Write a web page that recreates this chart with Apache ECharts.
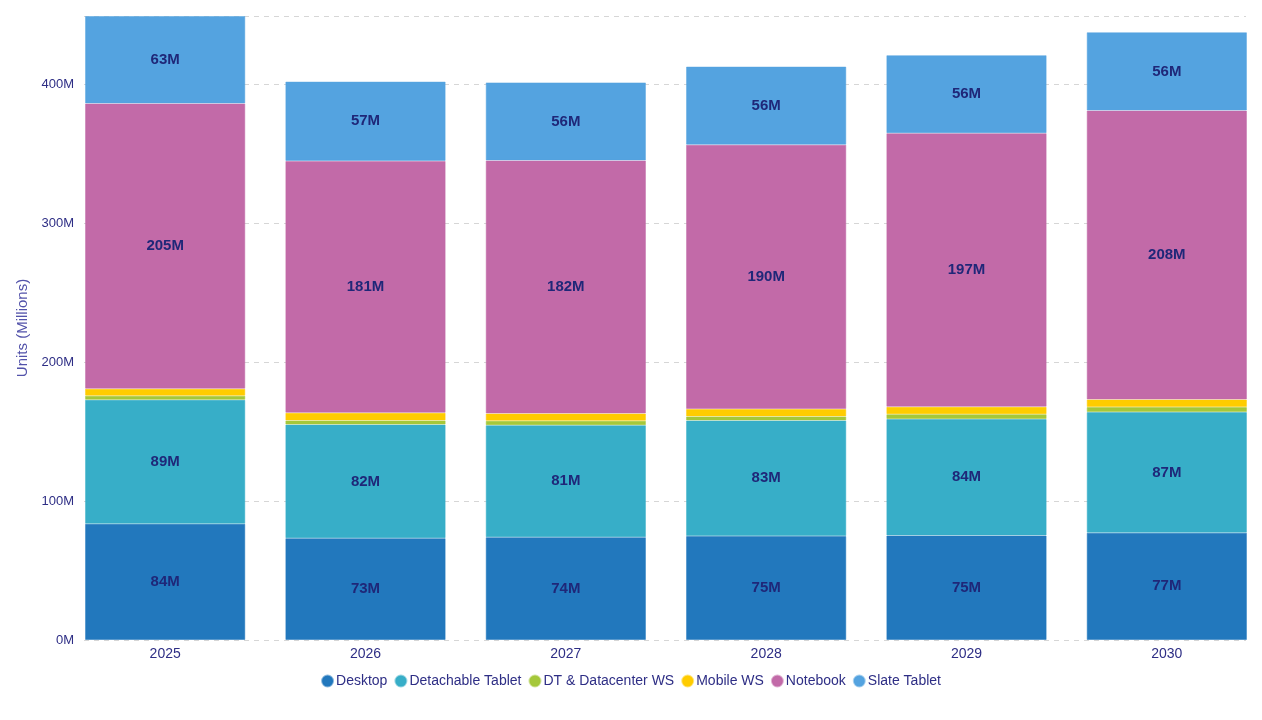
<!DOCTYPE html>
<html><head><meta charset="utf-8">
<script src="https://cdn.jsdelivr.net/npm/echarts@6/dist/echarts.min.js"></script>
<style>html,body{margin:0;padding:0;background:#fff}#c{width:1262px;height:720px}</style>
</head><body><div id="c"></div>
<script>
const years = ['2025','2026','2027','2028','2029','2030'];
const desktop = [83.6, 73.3, 74, 74.8, 75.2, 77.2];
const detachable = [89.2, 81.7, 80.6, 83.2, 83.8, 86.8];
const dtWS = [3, 3, 3.1, 2.9, 3.5, 3.6];
const mobileWS = [5, 5.5, 5.3, 5.3, 5.3, 5.5];
const notebook = [205.3, 181.2, 182.1, 190.2, 196.9, 207.9];
const slate = [62.9, 57.1, 56.1, 56.2, 56.1, 56.3];
const seriesNames = ['Desktop','Detachable Tablet','DT & Datacenter WS','Mobile WS','Notebook','Slate Tablet'];
const seriesData = [desktop, detachable, dtWS, mobileWS, notebook, slate];
const colors = ['#2278BD','#37AEC8','#A5C83A','#FFCC00','#C26AA8','#54A3E0'];
const borderColors = ['rgba(34,120,189,0.5)','rgba(55,174,200,0.5)','rgba(165,200,58,0.5)','rgba(255,204,0,0.5)','rgba(194,106,168,0.5)','rgba(84,163,224,0.5)'];
const showLabel = [true, true, false, false, true, true];

const totals = years.map((_, j) => seriesData.reduce((s, arr) => s + arr[j], 0));
const yMax = Math.max(...totals);

const textColor = '#2e2e85';
const chart = echarts.init(document.getElementById('c'));
chart.setOption({
  animation: false,
  color: colors,
  textStyle: { fontFamily: 'Liberation Sans, Arial, sans-serif' },
  grid: [
    { left: 84, right: 16, top: 16, bottom: 80 },
    { left: 65, width: 1202, top: 16, bottom: 80, outerBoundsMode: 'none', containLabel: false }
  ],
  legend: {
    bottom: 27, left: 'center', icon: 'circle', itemWidth: 11, itemHeight: 11, itemGap: 7,
    textStyle: { color: textColor, fontSize: 14, padding: [0,0,0,-2] },
    data: seriesNames
  },
  xAxis: [
    { type: 'category', gridIndex: 0, data: years, show: false },
    {
      type: 'category', gridIndex: 1, data: years,
      axisLine: { show: false }, axisTick: { show: false },
      axisLabel: { color: textColor, fontSize: 14, margin: 7 }
    }
  ],
  yAxis: [
    {
      type: 'value', gridIndex: 0, min: 0, max: yMax, interval: 100,
      name: 'Units (Millions)', nameLocation: 'middle', nameGap: 54,
      nameTextStyle: { color: '#5353aa', fontSize: 15 },
      axisLabel: { color: textColor, fontSize: 13, margin: 10, formatter: v => v + 'M', showMaxLabel: false },
      splitLine: { lineStyle: { color: '#d6d6d6', type: [5, 5] } },
      axisLine: { show: false }, axisTick: { show: false }
    },
    {
      type: 'value', gridIndex: 1, min: 0, max: yMax, show: false,
      splitLine: { show: false }
    }
  ],
  series: seriesNames.map((n, i) => ({
    name: n, type: 'bar', stack: 'total', barCategoryGap: '20%',
    xAxisIndex: 1, yAxisIndex: 1,
    data: seriesData[i],
    itemStyle: { color: colors[i], borderColor: borderColors[i], borderWidth: 1 },
    label: {
      show: showLabel[i], position: 'inside', color: '#1f2778', fontWeight: 'bold', fontSize: 15,
      formatter: p => Math.round(p.value) + 'M'
    }
  }))
});
</script></body></html>
